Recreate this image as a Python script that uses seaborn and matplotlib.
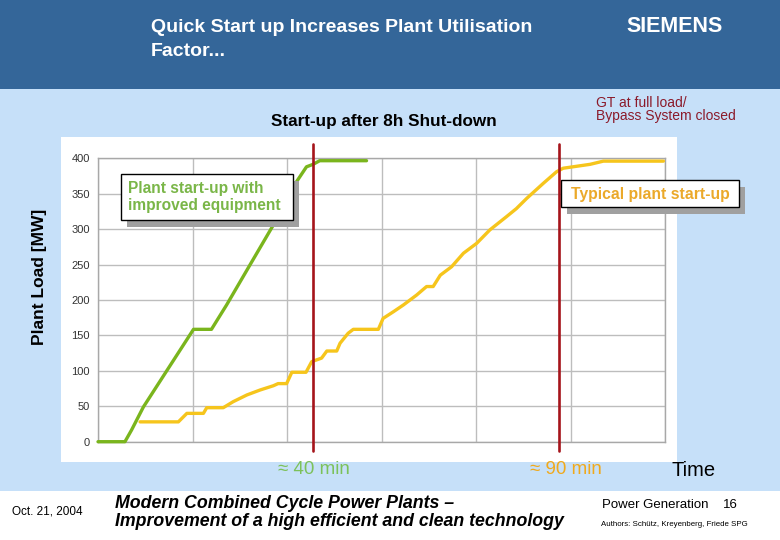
import numpy as np
import pandas as pd
import matplotlib
matplotlib.use("Agg")
import matplotlib.pyplot as plt
from matplotlib.patches import Rectangle
import seaborn as sns

# ---- data (x in minutes, y in MW) ----
green_x = [0, 5.7, 7.1, 9.6, 20.2, 24.0, 27.2, 32.1, 37.1, 42.0, 44.1, 45.5, 46.9, 56.8]
green_y = [0, 0, 16.5, 49, 158.6, 158.6, 193, 249, 306, 367, 388, 391.5, 396.6, 396.6]

yellow_x = [8.9, 17.0, 18.8, 22.3, 23.0, 26.5, 28.6, 31.5, 34.3, 37.1, 38.1, 39.9, 41.0,
            44.0, 45.2, 47.3, 48.4, 50.5, 51.2, 52.9, 54.0, 59.3, 60.3, 62.5, 64.6, 67.4,
            69.5, 70.9, 72.4, 74.8, 77.3, 80.1, 82.9, 86.4, 88.5, 90.7, 94.2, 97.0, 98.4,
            104.1, 106.9, 119.6]
yellow_y = [28, 28, 40, 40, 48, 48, 56.5, 66, 73, 79, 82, 82, 98,
            98, 113, 118, 128, 128, 139, 153, 158.6, 158.6, 174, 183.5, 193, 207,
            219, 219, 235, 247, 266, 280, 299, 317.6, 329, 343.5, 364.7, 381, 386,
            391.5, 396, 396]

marker_times = [45.4, 97.5]
y_ticks = [0, 50, 100, 150, 200, 250, 300, 350, 400]
x_ticks = [0, 20, 40, 60, 80, 100, 120]

df = pd.concat([
    pd.DataFrame({"t": green_x, "mw": green_y, "run": "improved"}),
    pd.DataFrame({"t": yellow_x, "mw": yellow_y, "run": "typical"}),
])

sns.set_style("white")
plt.rcParams["font.family"] = ["Liberation Sans", "DejaVu Sans"]

W, H = 780, 540
fig = plt.figure(figsize=(W / 100, H / 100), dpi=100)


def fx(px):
    return px / W


def fy(py):
    return 1 - py / H


def rect(x0, y0, x1, y1, **kw):
    fig.add_artist(Rectangle((fx(x0), fy(y1)), (x1 - x0) / W, (y1 - y0) / H,
                             transform=fig.transFigure, **kw))


# slide backgrounds
rect(0, 0, W, 89, facecolor="#346699", edgecolor="none", zorder=-10)
rect(0, 89, W, 491, facecolor="#c6e0f9", edgecolor="none", zorder=-10)
rect(61, 137, 677, 462, facecolor="white", edgecolor="none", zorder=-9)

ax = fig.add_axes([fx(98), fy(441.7), (665.3 - 98) / W, (441.7 - 158.3) / H])
ax.set_facecolor("white")

sns.lineplot(data=df[df.run == "improved"], x="t", y="mw", ax=ax, color="#7ab51d",
             linewidth=2.4, sort=False, estimator=None, clip_on=False, zorder=3)
sns.lineplot(data=df[df.run == "typical"], x="t", y="mw", ax=ax, color="#f6c51c",
             linewidth=2.4, sort=False, estimator=None, clip_on=False, zorder=3)

for t in marker_times:
    ax.axvline(t, ymin=-0.033, ymax=1.05, color="#a5141b", linewidth=1.9,
               clip_on=False, zorder=4)

ax.set_xlim(0, 120)
ax.set_ylim(0, 400)
ax.set_xticks(x_ticks)
ax.set_xticklabels([""] * len(x_ticks))
ax.set_yticks(y_ticks)
ax.set_yticklabels([str(v) for v in y_ticks], fontsize=8, color="#333333")
ax.grid(True, color="#bdbdbd", linewidth=1)
ax.tick_params(length=3, color="#bdbdbd", pad=3)
for s in ax.spines.values():
    s.set_color("#a8a8a8")
    s.set_linewidth(1)
ax.set_xlabel("")
ax.set_ylabel("")

# annotation boxes with shadow
rect(127, 181, 299, 227, facecolor="#a0a0a0", edgecolor="none", zorder=10)
rect(121, 174, 293, 220, facecolor="white", edgecolor="black", linewidth=1, zorder=11)
fig.text(fx(128), fy(197), "Plant start-up with\nimproved equipment", color="#7ab648",
         fontsize=11.2, fontweight="bold", va="center", ha="left", linespacing=1.15, zorder=12)

rect(567, 187, 745, 214, facecolor="#a0a0a0", edgecolor="none", zorder=10)
rect(561, 180, 739, 207, facecolor="white", edgecolor="black", linewidth=1, zorder=11)
fig.text(fx(650), fy(194), "Typical plant start-up", color="#eba92a",
         fontsize=11.3, fontweight="bold", va="center", ha="center", zorder=12)

# header
fig.text(fx(151), fy(28), "Quick Start up Increases Plant Utilisation",
         color="white", fontsize=14, fontweight="bold", va="center", ha="left")
fig.text(fx(151), fy(51), "Factor...",
         color="white", fontsize=14, fontweight="bold", va="center", ha="left")
fig.text(fx(675), fy(27), "SIEMENS", color="white", fontsize=15.5, fontweight="bold",
         va="center", ha="center")

# chart texts
fig.text(fx(384), fy(122), "Start-up after 8h Shut-down", color="black", fontsize=12.3,
         fontweight="bold", va="center", ha="center")
fig.text(fx(596), fy(103), "GT at full load/", color="#8b1a2a",
         fontsize=10, va="center", ha="left")
fig.text(fx(596), fy(116), "Bypass System closed", color="#8b1a2a",
         fontsize=10, va="center", ha="left")
fig.text(fx(40), fy(277), "Plant Load [MW]", color="black", fontsize=12.5, rotation=90,
         fontweight="bold", va="center", ha="center")
fig.text(fx(314), fy(470), "\u2248 40 min", color="#7cc15a", fontsize=13.5,
         va="center", ha="center")
fig.text(fx(566), fy(470), "\u2248 90 min", color="#f0a91c", fontsize=13.5,
         va="center", ha="center")
fig.text(fx(694), fy(471), "Time", color="black", fontsize=14.5, va="center", ha="center")

# footer
fig.text(fx(12), fy(512), "Oct. 21, 2004", color="black", fontsize=8.5, va="center", ha="left")
fig.text(fx(115), fy(503), "Modern Combined Cycle Power Plants \u2013",
         color="black", fontsize=12.8, fontweight="bold", fontstyle="italic",
         va="center", ha="left")
fig.text(fx(115), fy(522), "Improvement of a high efficient and clean technology",
         color="black", fontsize=12.8, fontweight="bold", fontstyle="italic",
         va="center", ha="left")
fig.text(fx(602), fy(505), "Power Generation", color="black", fontsize=9.5,
         va="center", ha="left")
fig.text(fx(723), fy(505), "16", color="black", fontsize=9.5, va="center", ha="left")
fig.text(fx(601), fy(524), "Authors: Sch\u00fctz, Kreyenberg, Friede SPG", color="black",
         fontsize=5.7, va="center", ha="left")

fig.savefig("out.png", dpi=100)
